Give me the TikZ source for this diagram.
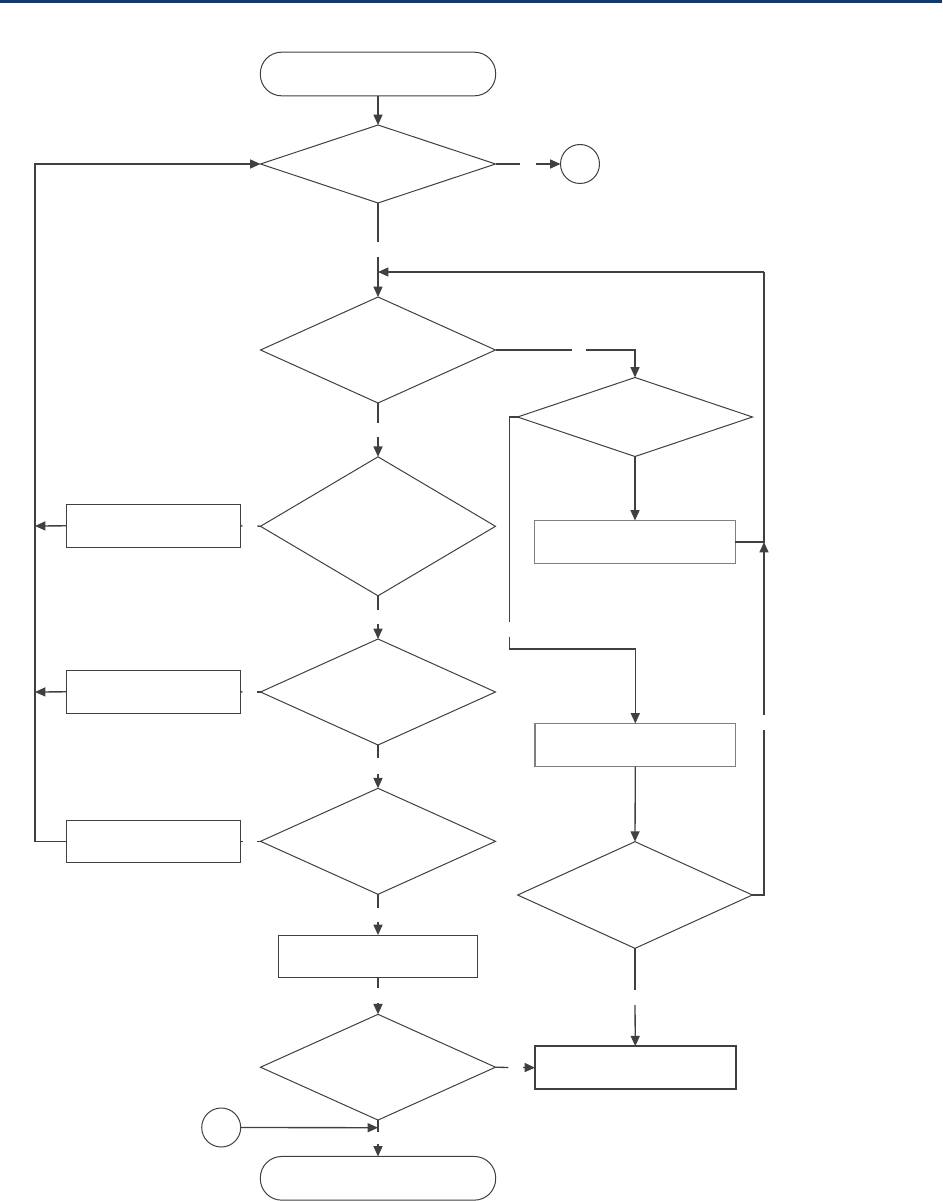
\documentclass[tikz,border=0pt]{standalone}
\usetikzlibrary{shapes.geometric,arrows.meta}
\definecolor{ln}{HTML}{404040}
\definecolor{topbar}{HTML}{0B3C78}
\definecolor{gb}{HTML}{7F7F7F}
\begin{document}
\begin{tikzpicture}[x=0.75pt,y=-0.75pt,
  every node/.style={inner sep=0pt,outer sep=0pt},
  shp/.style={draw=ln,line width=0.75pt,fill=white},
  term/.style={shp,rectangle,rounded corners=16pt,minimum width=176.5pt,minimum height=32.75pt},
  dec/.style={shp,diamond,minimum width=176.25pt},
  conn/.style={draw=ln,line width=1pt},
  arr/.style={conn,-{Triangle[length=7.8pt,width=6.8pt]}},
  lbox/.style={shp,rectangle,minimum width=130.5pt,minimum height=32.25pt},
  rbox/.style={shp,rectangle,draw=gb,line width=1pt,minimum width=150.4pt,minimum height=32.25pt},
  dbox/.style={shp,rectangle,line width=1.4pt,minimum width=150.4pt,minimum height=32.25pt},
  mbox/.style={shp,rectangle,minimum width=149.5pt,minimum height=31.7pt},
  conc/.style={shp,circle,minimum size=29.25pt}
]
\useasboundingbox (0,0) rectangle (942,1201);
\fill[topbar] (0,0) rectangle (942,3);

% nodes
\node[term] (start) at (378,74) {};
\node[dec,minimum height=58.5pt] (d1) at (378,164) {};
\node[conc] (c1) at (580,164) {};
\node[dec,minimum height=79.5pt] (d2) at (378,350) {};
\node[dec,minimum height=59.25pt] (d3) at (635,417) {};
\node[rbox] (bA) at (635,542) {};
\node[dec,minimum height=104.25pt] (m3) at (378,526.3) {};
\node[lbox] (L1) at (153.3,525.8) {};
\node[dec,minimum height=79.5pt] (m4) at (378,692) {};
\node[lbox] (L2) at (153.3,691.8) {};
\node[dec,minimum height=79.5pt] (m5) at (378,841.3) {};
\node[lbox,minimum height=31.5pt] (L3) at (153.3,841.3) {};
\node[rbox] (bB) at (635.3,745) {};
\node[dec,minimum width=176pt,minimum height=80pt] (d4) at (635,895) {};
\node[dbox] (bC) at (635.3,1067.7) {};
\node[mbox] (bM) at (378,956.2) {};
\node[dec,minimum height=79.3pt] (m6) at (378,1067.2) {};
\node[conc] (c2) at (221.2,1127.5) {};
\node[term] (end) at (378,1178.3) {};

% coordinates
\coordinate (g1a) at (519.5,164);
\coordinate (g1b) at (536,164);
\coordinate (g2a) at (378,242);
\coordinate (g2b) at (378,257);
\coordinate (mrg) at (378,272);
\coordinate (g3a) at (571.7,350);
\coordinate (g3b) at (586,350);
\coordinate (r1) at (764,895);
\coordinate (r2) at (764,730);
\coordinate (r3) at (764,715);
\coordinate (r4) at (764,542);
\coordinate (r5) at (764,272);
\coordinate (l1) at (509.3,417);
\coordinate (l2) at (509.3,621.7);
\coordinate (l3) at (509.3,636.7);
\coordinate (l4) at (509.3,649);
\coordinate (g4a) at (635,990);
\coordinate (g4b) at (635,1005);
\coordinate (g5a) at (378,422.7);
\coordinate (g5b) at (378,436.7);
\coordinate (g6a) at (378,610);
\coordinate (g6b) at (378,624);
\coordinate (g7a) at (378,758);
\coordinate (g7b) at (378,774);
\coordinate (g8a) at (378,907.7);
\coordinate (g8b) at (378,921.7);
\coordinate (g9a) at (378,988.3);
\coordinate (g9b) at (378,1003);
\coordinate (g10a) at (508.3,1067.5);
\coordinate (g10b) at (523,1067.5);
\coordinate (s1a) at (257.3,526);
\coordinate (s1b) at (242.5,526);
\coordinate (s2a) at (257.3,692);
\coordinate (s2b) at (242.5,692);
\coordinate (s3a) at (257.3,841.3);
\coordinate (s3b) at (242.5,841.3);
\coordinate (lv1) at (35,526);
\coordinate (lv2) at (35,692);
\coordinate (lv3) at (35,841.3);
\coordinate (lv4) at (35,164);
\coordinate (e1) at (378,1131.7);
\coordinate (e2) at (378,1144);
\coordinate (cj) at (378,1127.7);

% connectors
\draw[arr] (start.south) -- (d1.north);
\draw[conn] (d1.east) -- (g1a);
\draw[arr] (g1b) -- (c1.west);
\draw[conn] (d1.south) -- (g2a);
\draw[arr] (g2b) -- (d2.north);
\draw[arr] (r5) -- (mrg);
\draw[conn] (d2.east) -- (g3a);
\draw[arr] (g3b) -| (d3.north);
\draw[arr] (d3.south) -- (bA.north);
\draw[conn] (bA.east) -- (r4) -- (r5);
\draw[conn] (d4.east) -- (r1) -- (r2);
\draw[arr] (r3) -- (r4);
\draw[conn] (d3.west) -- (l1) -- (l2);
\draw[arr] (l3) -- (l4) -| (bB.north);
\draw[arr] (bB.south) -- (d4.north);
\draw[conn] (d4.south) -- (g4a);
\draw[arr] (g4b) -- (bC.north);
\draw[conn] (d2.south) -- (g5a);
\draw[arr] (g5b) -- (m3.north);
\draw[conn] (m3.west) -- (s1a);
\draw[conn] (s1b) -- (L1.east);
\draw[arr] (L1.west) -- (lv1);
\draw[conn] (m3.south) -- (g6a);
\draw[arr] (g6b) -- (m4.north);
\draw[conn] (m4.west) -- (s2a);
\draw[conn] (s2b) -- (L2.east);
\draw[arr] (L2.west) -- (lv2);
\draw[conn] (m4.south) -- (g7a);
\draw[arr] (g7b) -- (m5.north);
\draw[conn] (m5.west) -- (s3a);
\draw[conn] (s3b) -- (L3.east);
\draw[arr] (L3.west) -- (lv3) -- (lv4) -- (d1.west);
\draw[conn] (m5.south) -- (g8a);
\draw[arr] (g8b) -- (bM.north);
\draw[conn] (bM.south) -- (g9a);
\draw[arr] (g9b) -- (m6.north);
\draw[conn] (m6.east) -- (g10a);
\draw[arr] (g10b) -- (bC.west);
\draw[conn] (m6.south) -- (e1);
\draw[arr] (e2) -- (end.north);
\draw[arr] (c2.east) -- (cj);
\end{tikzpicture}
\end{document}
